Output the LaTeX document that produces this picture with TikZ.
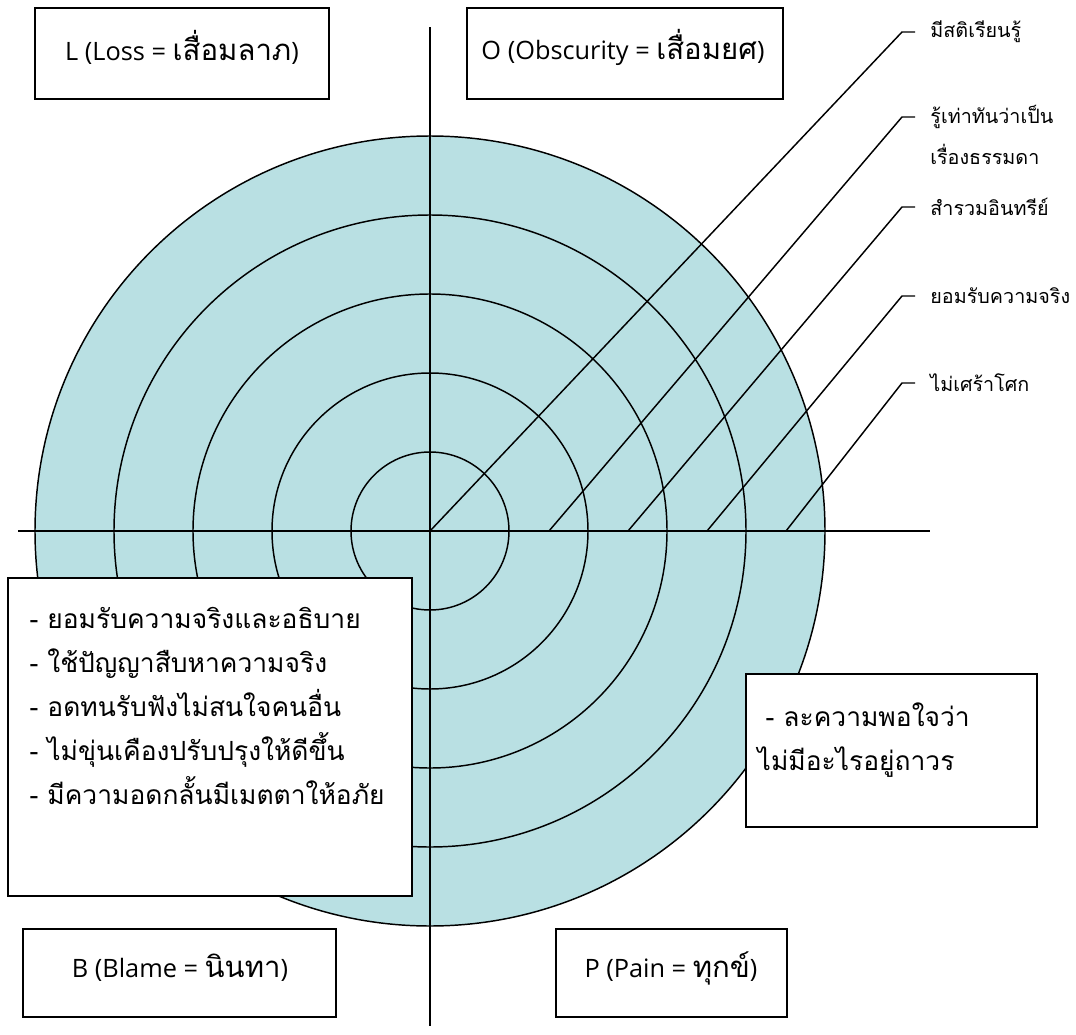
\documentclass[tikz,border=0pt]{standalone}
\usepackage{fontspec}
\setmainfont{Loma}[Script=Thai]
\newfontfamily\lat{Open Sans}
\usetikzlibrary{calc,fit}
\definecolor{ringfill}{RGB}{185,224,227}
% Latin part of a box title
\newcommand{\latpart}[1]{{\lat\fontsize{19}{22}\selectfont #1}}

\begin{document}
\begin{tikzpicture}[x=0.75pt,y=-0.75pt,line width=1.1pt,
  framebox/.style={draw=black,fill=white,line width=1.1pt,inner sep=0pt},
  titletext/.style={inner sep=0pt,font=\fontsize{22}{24}\selectfont},
  bodyline/.style={inner sep=0pt,anchor=base west,font=\fontsize{19.8}{24}\selectfont},
  steplabel/.style={anchor=west,inner xsep=11pt,inner ysep=0pt,font=\fontsize{14.8}{17}\selectfont},
  ring/.style={draw=black,line width=1.1pt},
  axis/.style={draw=black,line width=1.1pt},
  leader/.style={draw=black,line width=1.1pt,line join=miter}]
\useasboundingbox (0,0) rectangle (1076,1035);

% concentric rings
\coordinate (c) at (430,531);
\fill[ringfill] (c) circle[radius=395*0.75pt];
\foreach \r in {79,158,237,316,395}
  \draw[ring] (c) circle[radius=\r*0.75pt];

% axes
\coordinate (vtop) at (430,27);
\coordinate (vbot) at (430,1026);
\coordinate (hl) at (18,531);
\coordinate (hr) at (930,531);
\draw[axis] (vtop) -- (vbot);
\draw[axis] (hl) -- (hr);

% labels on the right
\node[steplabel] (l1) at (915,32) {มีสติเรียนรู้};
\node[steplabel] (l2) at (915,117) {รู้เท่าทันว่าเป็น};
\node[steplabel] (l2b) at (915,154) {เรื่องธรรมดา};
\node[steplabel] (l3) at (915,207) {สำรวมอินทรีย์};
\node[steplabel] (l4) at (915,296) {ยอมรับความจริง};
\node[steplabel] (l5) at (915,383) {ไม่เศร้าโศก};

% starting points of the leaders on the horizontal axis
\coordinate (s1) at (430,531);
\coordinate (s2) at (549,531);
\coordinate (s3) at (628,531);
\coordinate (s4) at (707,531);
\coordinate (s5) at (786,531);

\foreach \i in {1,...,5}
  \draw[leader] (s\i) -- ($(l\i.west)+(-13,0)$) -- (l\i.west);

% four corner boxes
\node[framebox,fit={(35,8) (329,99)}] (Lbox) {};
\node[titletext] (Ltext) at (182,47) {\latpart{L (Loss = }เสื่อมลาภ\latpart{)}};

\node[framebox,fit={(467,8) (783,99)}] (Obox) {};
\node[titletext] (Otext) at (623,47) {\latpart{O (Obscurity = }เสื่อมยศ\latpart{)}};

\node[framebox,fit={(23,929) (336,1017)}] (Bbox) {};
\node[titletext] (Btext) at (180,968) {\latpart{B (Blame = }นินทา\latpart{)}};

\node[framebox,fit={(556,929) (787,1017)}] (Pbox) {};
\node[titletext] (Ptext) at (671,968) {\latpart{P (Pain = }ทุกข์\latpart{)}};

% practice lists
\node[framebox,fit={(8,578) (412,896)}] (praise) {};
\node[bodyline] (p1) at (29,628) {- ยอมรับความจริงและอธิบาย};
\node[bodyline] (p2) at (29,672) {- ใช้ปัญญาสืบหาความจริง};
\node[bodyline] (p3) at (29,716) {- อดทนรับฟังไม่สนใจคนอื่น};
\node[bodyline] (p4) at (29,760) {- ไม่ขุ่นเคืองปรับปรุงให้ดีขึ้น};
\node[bodyline] (p5) at (29,804) {- มีความอดกลั้นมีเมตตาให้อภัย};

\node[framebox,fit={(746,674) (1037,827)}] (gain) {};
\node[bodyline] (g1) at (765,726) {- ละความพอใจว่า};
\node[bodyline] (g2) at (757,770) {ไม่มีอะไรอยู่ถาวร};
\end{tikzpicture}
\end{document}
